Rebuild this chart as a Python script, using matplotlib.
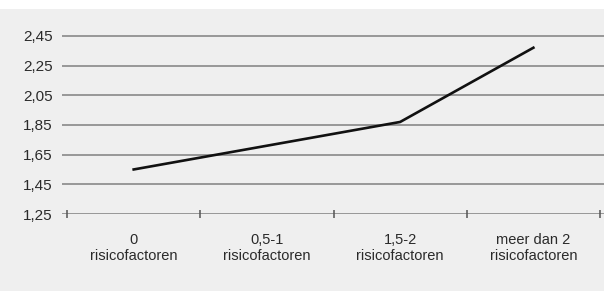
import matplotlib
matplotlib.use("Agg")
import matplotlib.pyplot as plt
from matplotlib.patches import Rectangle

categories = ["0\nrisicofactoren", "0,5-1\nrisicofactoren", "1,5-2\nrisicofactoren", "meer dan 2\nrisicofactoren"]
values = [1.55, 1.71, 1.87, 2.37]
yticks = [1.25, 1.45, 1.65, 1.85, 2.05, 2.25, 2.45]
ytick_labels = ["1,25", "1,45", "1,65", "1,85", "2,05", "2,25", "2,45"]

plt.rcParams['font.family'] = ['Liberation Sans', 'DejaVu Sans']

W, H = 604, 291
fig = plt.figure(figsize=(W / 100, H / 100), dpi=100, facecolor="white")
fig.patches.append(Rectangle((0, 0), 1, 1 - 9 / H, transform=fig.transFigure,
                             facecolor="#efefef", edgecolor="none", zorder=-10))

left, right = 62 / W, 1.0
bottom, top = 1 - 214 / H, 1 - 21 / H
ax = fig.add_axes([left, bottom, right - left, top - bottom])
ax.set_facecolor("none")

x = [i + 0.5 for i in range(len(values))]
ax.plot(x, values, color="#111111", lw=1.9, solid_joinstyle="round", zorder=3)

ax.set_xlim(-0.038, 4.03)
ax.set_ylim(1.25, 2.55)

for yv in yticks:
    ax.axhline(yv, color="#909090", lw=1.3, zorder=1)

for s in ax.spines.values():
    s.set_visible(False)

ax.set_yticks(yticks)
ax.set_yticklabels(ytick_labels, fontsize=11, color="#2a2a2a")
ax.tick_params(axis="y", length=0, pad=6.5)

ax.set_xticks(x)
ax.set_xticklabels(categories, fontsize=10.5, color="#2a2a2a", linespacing=1.1)
ax.tick_params(axis="x", which="major", length=0, pad=14)
ax.set_xticks([0, 1, 2, 3, 4], minor=True)
ax.tick_params(axis="x", which="minor", direction="inout", length=6, width=1.1, color="#555555")

fig.savefig("out.png", dpi=100, facecolor=fig.get_facecolor())
